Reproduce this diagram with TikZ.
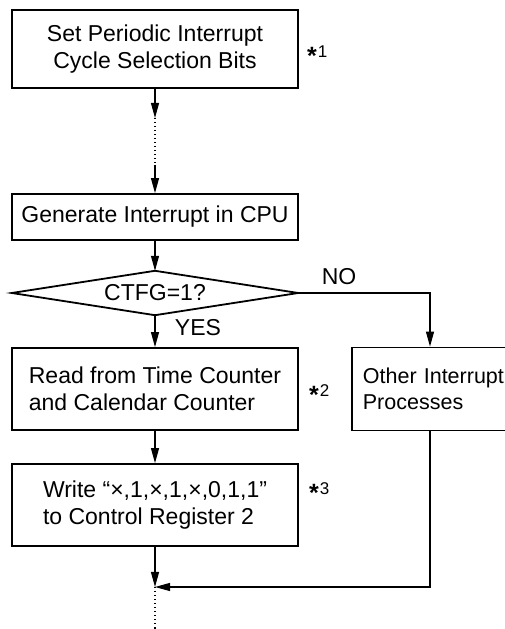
\documentclass[tikz,border=0pt]{standalone}
\usepackage{fontspec}
\setmainfont{Liberation Sans}
\usetikzlibrary{arrows.meta}
\newcommand{\starnote}[1]{\raisebox{-7pt}{\fontsize{25}{25}\selectfont\bfseries *}\hspace{1pt}#1}
\begin{document}
\begin{tikzpicture}[x=1pt,y=1pt,
  font=\fontsize{23}{26.5}\selectfont,
  box/.style={draw,line width=1.8pt,minimum width=286pt,inner sep=0pt},
  conn/.style={line width=1.1pt},
  arr/.style={conn,-{Triangle[length=15pt,width=8pt]}},
  dots/.style={line width=1.1pt,dash pattern=on 1.5pt off 2.5pt},
  note/.style={anchor=base west,inner sep=0pt,font=\fontsize{17}{17}\selectfont},
  lbl/.style={inner sep=0pt}]
\useasboundingbox (0,0) rectangle (505,629);
\node[box,minimum height=78pt,align=center] (b1) at (155,580) {Set Periodic Interrupt\\Cycle Selection Bits};
\node[box,minimum height=46pt] (b2) at (155,412) {Generate Interrupt in CPU};
\node[minimum width=286pt,minimum height=44pt,inner sep=0pt] (d) at (155,336) {CTFG=1?};
\draw[line width=1.8pt,line join=miter] (d.west) -- (d.north) -- (d.east) -- (d.south) -- cycle;
\node[box,minimum height=82pt,align=left] (b3) at (155,240) {Read from Time Counter\\and Calendar Counter};
\node[box,minimum height=82pt,align=left] (b4) at (155,124) {Write “×,1,×,1,×,0,1,1”\\to Control Register 2};
\node[draw,line width=1.8pt,minimum height=83pt,text width=168pt,inner xsep=11pt,inner ysep=0pt,align=left,anchor=west,font=\fontsize{21.5}{26.5}\selectfont] (b5) at (351,240) {Other Interrupt\\Processes};
\coordinate (m1) at (155,511);
\coordinate (m2) at (155,464);
\coordinate (j) at (155,42);
\coordinate (e) at (155,0);
\coordinate (c1) at (430,336);
\coordinate (c2) at (430,42);
\node[note] (n1) at (307,571) {\starnote{1}};
\node[note] (n2) at (309,232) {\starnote{2}};
\node[note] (n3) at (309,134) {\starnote{3}};
\node[lbl] (no) at (339,352.5) {NO};
\node[lbl] (yes) at (198,301.5) {YES};
\draw[arr] (b1.south) -- (m1);
\draw[dots] (m1) -- (m2);
\draw[arr] (m2) -- (b2.north);
\draw[arr] (b2.south) -- (d.north);
\draw[arr] (d.south) -- (b3.north);
\draw[arr] (b3.south) -- (b4.north);
\draw[arr] (b4.south) -- (j);
\draw[arr] (d.east) -| (b5.north west -| c1);
\draw[arr] (b5.south west -| c2) |- (j);
\draw[dots] (j) -- (e);
\end{tikzpicture}
\end{document}
